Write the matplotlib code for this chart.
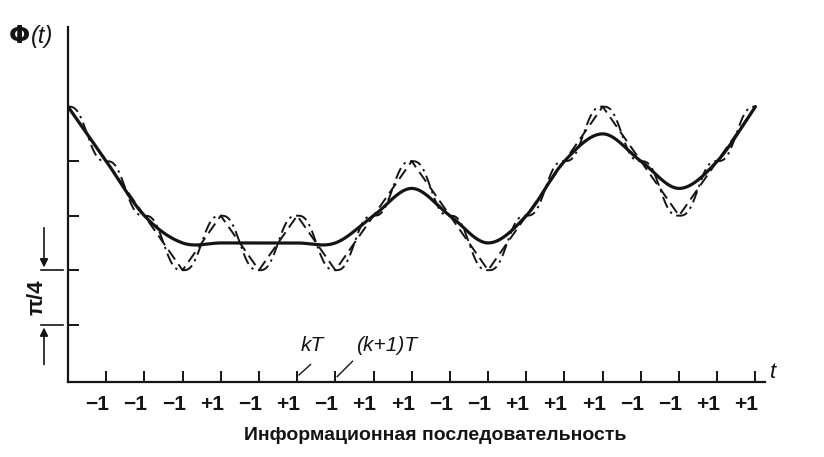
import numpy as np
import matplotlib
matplotlib.use('Agg')
import matplotlib.pyplot as plt
from matplotlib import transforms

# ── Data: information sequence (one symbol per interval T) ───
symbols = [-1, -1, -1, +1, -1, +1, -1, +1, +1, -1, -1, +1, +1, +1, -1, -1, +1, +1]
phase0 = 5                     # starting phase, in units of pi/4 ticks
a_before = [-1, -1]            # symbols a(-1), a(0) preceding the plotted span
a_after = [+1, +1]             # symbols a(19), a(20) following it
ytick_vals = [1, 2, 3, 4]

FONT = ['Liberation Sans', 'DejaVu Sans']
INK = '#141414'

n_sym = len(symbols)
k = np.arange(n_sym + 1)

# MSK: piecewise-linear phase through the symbol boundaries
msk = phase0 + np.concatenate([[0], np.cumsum(symbols)])

# SFSK: phase flat at the boundaries, steeper mid-symbol
xs = np.linspace(0, n_sym, 3000)
idx = np.clip(np.floor(xs).astype(int), 0, n_sym - 1)
u = xs - idx
sfsk = msk[idx] + np.array(symbols)[idx] * (u - np.sin(2 * np.pi * u) / (2 * np.pi))

# TFM: correlative (1/4, 1/2, 1/4) phase steps, continuous frequency
a_full = a_before + symbols + a_after                       # a(-1) .. a(20)
b = np.array([(a_full[n - 1] + 2 * a_full[n] + a_full[n + 1]) / 4
              for n in range(1, len(a_full) - 1)])           # b(0) .. b(19)
tfm_k = phase0 + np.concatenate([[0], np.cumsum(b[1:n_sym + 1])])
slope_k = (b[:-1] + b[1:]) / 2                              # at boundaries 0..18
h = u
h00 = 2 * h**3 - 3 * h**2 + 1
h10 = h**3 - 2 * h**2 + h
h01 = -2 * h**3 + 3 * h**2
h11 = h**3 - h**2
tfm = (h00 * tfm_k[idx] + h10 * slope_k[idx] +
       h01 * tfm_k[idx + 1] + h11 * slope_k[idx + 1])

# ── Figure ────────────────────────────────────────────────────
fig = plt.figure(figsize=(8.24, 4.57), dpi=100)
ax = fig.add_axes([68 / 824, 75 / 457, 697 / 824, 355 / 457])

ax.plot(k, msk, color=INK, linewidth=1.4, dashes=(6, 3))
ax.plot(xs, sfsk, color=INK, linewidth=1.4, dashes=(6, 2.5, 1.2, 2.5))
ax.plot(xs, tfm, color=INK, linewidth=2.3, solid_capstyle='round')

ax.set_xlim(0, 18.25)
ax.set_ylim(-0.05, 6.46)
for s in ['top', 'right']:
    ax.spines[s].set_visible(False)
for s in ['left', 'bottom']:
    ax.spines[s].set_linewidth(1.6)
    ax.spines[s].set_color(INK)

ax.set_xticks(range(1, n_sym + 1))
ax.set_yticks(ytick_vals)
ax.tick_params(direction='in', length=8, width=1.4, color=INK,
               labelbottom=False, labelleft=False)

# symbol labels under the ticks
for n, s in enumerate(symbols, start=1):
    lab = '+1' if s > 0 else '\u22121'
    ax.text(n + 0.08, -0.47, lab, ha='right', va='center',
            fontsize=15, fontweight='bold', family=FONT, color=INK)

ax.text(18.45, 0.12, 't', ha='center', va='center', fontsize=16,
        style='italic', family=FONT, color=INK)

# kT and (k+1)T markers
ax.text(6.4, 0.62, 'kT', ha='center', va='center', fontsize=15,
        style='italic', family=FONT, color=INK)
ax.plot([6.05, 6.35], [0.08, 0.27], color=INK, linewidth=1.0)
ax.text(8.35, 0.62, '(k+1)T', ha='center', va='center', fontsize=15,
        style='italic', family=FONT, color=INK)
ax.plot([7.05, 7.45], [0.05, 0.33], color=INK, linewidth=1.0)

# axis title Phi(t)
fig.text(8 / 824, 1 - 36 / 457, r'$\mathbf{\Phi}$', ha='left', va='center',
         fontsize=18, color=INK)
fig.text(31 / 824, 1 - 36 / 457, '(t)', ha='left', va='center',
         fontsize=17, style='italic', family=FONT, color=INK)

fig.text(435 / 824, 1 - 435 / 457, 'Информационная последовательность',
         ha='center', va='center', fontsize=14, fontweight='bold',
         family=FONT, color=INK)

# pi/4 dimension marker
tr = transforms.blended_transform_factory(fig.transFigure, ax.transData)
xa = 44 / 824
ax.annotate('', xy=(xa, 2), xytext=(xa, 2.83), xycoords=tr, textcoords=tr,
            arrowprops=dict(arrowstyle='-|>', color=INK, lw=1.2, mutation_scale=12),
            annotation_clip=False)
ax.annotate('', xy=(xa, 1), xytext=(xa, 0.22), xycoords=tr, textcoords=tr,
            arrowprops=dict(arrowstyle='-|>', color=INK, lw=1.2, mutation_scale=12),
            annotation_clip=False)
for yv in (1, 2):
    ax.plot([41 / 824, 63 / 824], [yv, yv], transform=tr, color=INK,
            linewidth=1.2, clip_on=False)
ax.text(37 / 824, 1.5, '\u03c0/4', transform=tr, rotation=90, ha='center',
        va='center', fontsize=16, fontweight='bold', family=FONT, color=INK)

plt.savefig('out.png', dpi=100)
